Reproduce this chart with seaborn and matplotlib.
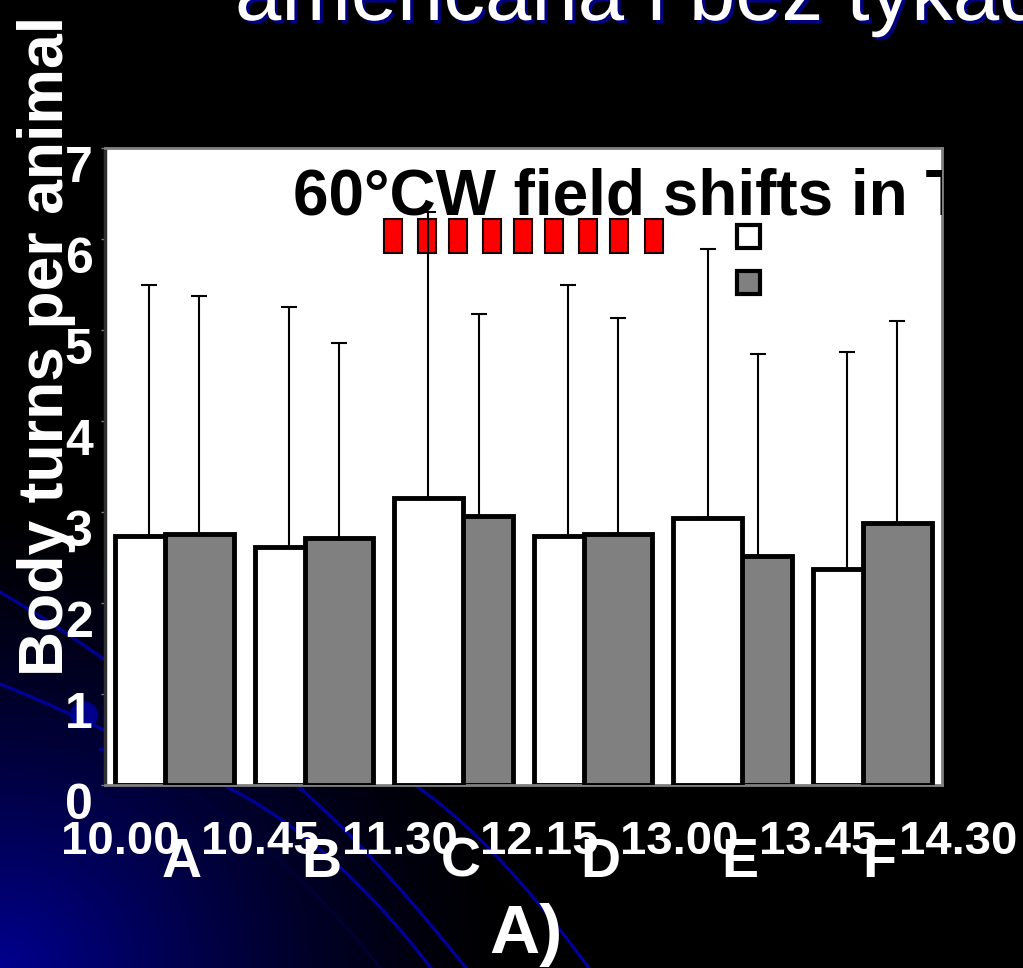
import numpy as np
import matplotlib
matplotlib.use("Agg")
import matplotlib.pyplot as plt
import matplotlib.patheffects as pe
from matplotlib.patches import Patch, Circle
from matplotlib.transforms import ScaledTranslation
from matplotlib import font_manager
import seaborn as sns

# ---- data -------------------------------------------------------------
groups = ["A", "B", "C", "D", "E", "F"]
time_labels = ["10.00", "10.45", "11.30", "12.15", "13.00", "13.45", "14.30"]
white_mean = [2.74, 2.62, 3.15, 2.74, 2.93, 2.37]
white_sd = [2.75, 2.63, 3.15, 2.75, 2.96, 2.39]
gray_mean = [2.76, 2.71, 2.96, 2.76, 2.52, 2.88]
gray_sd = [2.61, 2.15, 2.22, 2.37, 2.22, 2.22]
# field shifts, minutes after 10.00
shift_minutes = [93, 104, 114, 125, 135, 145, 156, 166, 177]
y_ticks = [0, 1, 2, 3, 4, 5, 6, 7]

# ---- style ------------------------------------------------------------
sns.set_theme(style="white")
plt.rcParams["font.family"] = ["Liberation Sans", "DejaVu Sans"]

W, H = 1023, 968
DPI = 100
fig = plt.figure(figsize=(W / DPI, H / DPI), dpi=DPI, facecolor="black")

# ---- slide background: dark blue glow in the lower-left corner ---------
bg = fig.add_axes([0, 0, 1, 1], zorder=-10)
yy, xx = np.mgrid[0:H, 0:W]
r = np.sqrt((xx / 520.0) ** 2 + ((H - yy) / 470.0) ** 2)
glow = np.clip(1 - r, 0, 1) ** 1.4
img = np.zeros((H, W, 3))
img[..., 2] = 0.56 * glow
bg.imshow(img, extent=(0, W, H, 0), interpolation="bilinear", aspect="auto")


def swoosh(p0, p1, p2, color="#000099", lw=2.3, alpha=1.0):
    """Quadratic curve through three points, extended a little at both ends."""
    p0, p1, p2 = map(np.asarray, (p0, p1, p2))
    c = 2 * p1 - 0.5 * (p0 + p2)
    t = np.linspace(-0.6, 1.3, 200)[:, None]
    pts = (1 - t) ** 2 * p0 + 2 * (1 - t) * t * c + t ** 2 * p2
    bg.plot(pts[:, 0], pts[:, 1], color=color, lw=lw, alpha=alpha,
            solid_capstyle="round")


swoosh((229, 788), (332, 860), (431, 968))
swoosh((300, 788), (380, 867), (466, 968))
swoosh((419, 788), (500, 860), (589, 968))
swoosh((186, 790), (290, 870), (380, 968), color="#00003a", lw=1.5)
swoosh((0, 592), (52, 624), (105, 660))
swoosh((0, 684), (50, 705), (104, 730))
bg.add_patch(Circle((84, 715), 13, color="#00008c"))
bg.set_xlim(0, W)
bg.set_ylim(H, 0)
bg.axis("off")

# ---- chart axes ---------------------------------------------------------
left, right, top, bottom = 104.5, 942.0, 148.0, 785.0
ax = fig.add_axes([left / W, 1 - bottom / H, (right - left) / W, (bottom - top) / H])
ax.set_facecolor("white")

x = np.arange(len(groups))
off = 0.18
sns.barplot(x=x - off, y=white_mean, native_scale=True, width=0.49,
            color="white", saturation=1, edgecolor="black", linewidth=3.5,
            errorbar=None, ax=ax)
sns.barplot(x=x + off, y=gray_mean, native_scale=True, width=0.49,
            color="#808080", saturation=1, edgecolor="black", linewidth=3.5,
            errorbar=None, ax=ax)

# the taller bar of each pair sits in front
white_bars, gray_bars = ax.containers[0], ax.containers[1]
for wb, gb, wv, gv in zip(white_bars, gray_bars, white_mean, gray_mean):
    wb.set_zorder(3 if wv > gv else 2)
    gb.set_zorder(3 if gv >= wv else 2)

zeros = np.zeros(len(groups))
ax.errorbar(x - off, white_mean, yerr=[zeros, white_sd], fmt="none",
            ecolor="black", elinewidth=1.5, capsize=5.5, capthick=1.5, zorder=5)
ax.errorbar(x + off, gray_mean, yerr=[zeros, gray_sd], fmt="none",
            ecolor="black", elinewidth=1.5, capsize=5.5, capthick=1.5, zorder=5)

# field-shift markers
shift_x = np.array(shift_minutes) / 45.0 - 0.5
ax.bar(shift_x, 0.374, bottom=5.846, width=0.129, color="#ff0000",
       edgecolor="#1a0000", linewidth=1.5, zorder=4)

ax.text(0.85, 6.264, "60°CW field shifts in T", fontsize=46, fontweight="bold",
        color="black", ha="left", va="baseline", clip_on=True, zorder=6)

handles = [Patch(facecolor="white", edgecolor="black", linewidth=3),
           Patch(facecolor="#808080", edgecolor="black", linewidth=3)]
ax.legend(handles=handles, labels=["", ""], loc="upper left",
          bbox_to_anchor=(737 / W, 1 - 225 / H), bbox_transform=fig.transFigure,
          frameon=False, borderpad=0, borderaxespad=0, handletextpad=0,
          handlelength=0.895, handleheight=1.0, labelspacing=0.8, fontsize=18.5)

ax.set_xlim(-0.5, len(groups) - 0.5)
ax.set_ylim(0, 7)
ax.set_xlabel("")
ax.set_ylabel("")

ax.set_yticks(y_ticks)
ax.set_yticklabels([str(v) for v in y_ticks])
ax.set_xticks(np.arange(len(time_labels)) - 0.5)
ax.set_xticklabels(time_labels)
ax.set_xticks(x, groups, minor=True)

ax.tick_params(axis="y", which="major", left=True, length=3, width=1,
               color="#808080", pad=5.5, labelsize=36, labelcolor="white")
ax.tick_params(axis="x", which="major", bottom=True, length=0, pad=25,
               labelsize=34, labelcolor="white")
ax.tick_params(axis="x", which="minor", bottom=True, length=0, pad=37.4,
               labelsize=40, labelcolor="white")
for lab in ax.get_yticklabels():
    lab.set_fontweight("bold")
    lab.set_transform(lab.get_transform() + ScaledTranslation(0, -0.16, fig.dpi_scale_trans))
for lab in ax.get_xticklabels():
    lab.set_fontweight("bold")
    lab.set_transform(lab.get_transform() + ScaledTranslation(0.16, 0, fig.dpi_scale_trans))
for lab in ax.get_xticklabels(minor=True):
    lab.set_fontweight("bold")
    lab.set_transform(lab.get_transform() + ScaledTranslation(0.075, 0, fig.dpi_scale_trans))

for side, sp in ax.spines.items():
    sp.set_visible(True)
    sp.set_color("#808080")
    sp.set_linewidth(2)
ax.spines["left"].set_color("#303030")
ax.spines["left"].set_linewidth(2.5)

# ---- slide texts ---------------------------------------------------------
fig.text(63 / W, 1 - 346 / H, "Body turns per animal", rotation=90,
         rotation_mode="anchor", ha="center", va="baseline", fontsize=45,
         fontweight="bold", color="white")
fig.text(526 / W, 15 / H, "A)", ha="center", va="baseline", fontsize=50,
         fontweight="bold", color="white")

names = {f.name for f in font_manager.fontManager.ttflist}
if "Liberation Sans Narrow" in names:
    head_family, head_size = ["Liberation Sans Narrow", "DejaVu Sans"], 73
else:
    head_family, head_size = ["Liberation Sans", "DejaVu Sans"], 60
fig.text(235 / W, 1 - 20 / H, "americana i bez tykadeł", family=head_family,
         fontsize=head_size, color="white", ha="left", va="baseline",
         path_effects=[pe.withSimplePatchShadow(offset=(2.2, -2.2),
                                                shadow_rgbFace="#000080",
                                                alpha=1.0)])

fig.savefig("out.png", dpi=DPI, facecolor="black")
